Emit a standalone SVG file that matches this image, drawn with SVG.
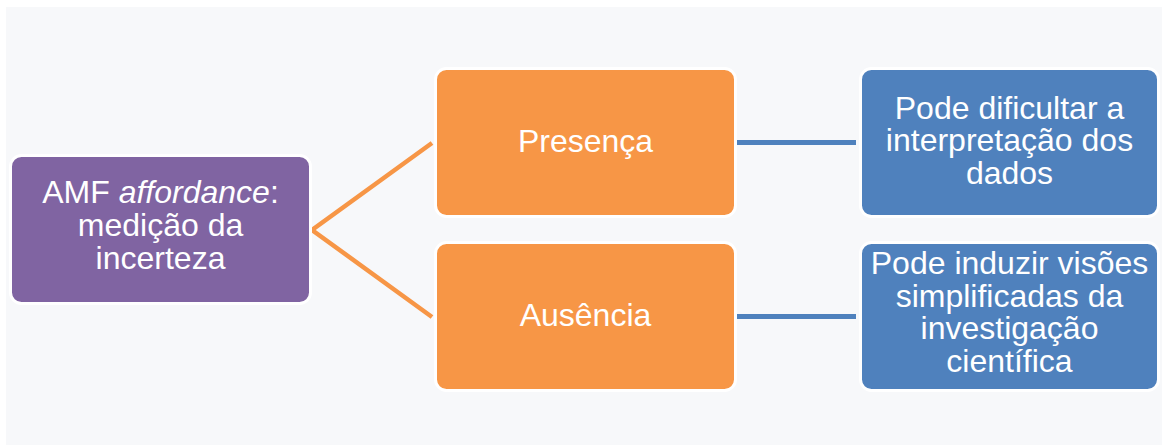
<svg xmlns="http://www.w3.org/2000/svg" width="1162" height="446" viewBox="0 0 1162 446">
  <style>
    .box { stroke: #ffffff; stroke-width: 3; }
    .purple { fill: #8064a2; }
    .orange { fill: #f79646; }
    .blue { fill: #4f81bd; }
    .lbl { font-family: "Liberation Sans", Arial, sans-serif; font-size: 32px; fill: #ffffff; text-anchor: middle; }
    .link-o { stroke: #f79646; stroke-width: 4.5; fill: none; }
    .link-b { stroke: #4f81bd; stroke-width: 5; fill: none; }
  </style>
  <rect x="0" y="0" width="1162" height="446" fill="#ffffff"/>
  <rect x="6" y="7" width="1156" height="438" fill="#f7f8fa"/>

  <g id="connectors">
    <polyline class="link-o" points="432,143 312,230 432,317"/>
    <line class="link-b" x1="736" y1="142.5" x2="856" y2="142.5"/>
    <line class="link-b" x1="736" y1="316.5" x2="856" y2="316.5"/>
  </g>

  <g id="node-amf">
    <rect class="box purple" x="10.5" y="155.5" width="300" height="148" rx="11"/>
    <text class="lbl" x="160.5" y="203">AMF <tspan font-style="italic">affordance</tspan>:</text>
    <text class="lbl" x="160.5" y="236">medição da</text>
    <text class="lbl" x="160.5" y="268.5">incerteza</text>
  </g>

  <g id="node-presenca">
    <rect class="box orange" x="435.5" y="68.5" width="300" height="148" rx="11"/>
    <text class="lbl" x="585.5" y="152">Presença</text>
  </g>

  <g id="node-ausencia">
    <rect class="box orange" x="435.5" y="242.5" width="300" height="148" rx="11"/>
    <text class="lbl" x="585.5" y="326">Ausência</text>
  </g>

  <g id="node-dificultar">
    <rect class="box blue" x="860.5" y="68.5" width="298" height="148" rx="11"/>
    <text class="lbl" x="1009.5" y="118.5">Pode dificultar a</text>
    <text class="lbl" x="1009.5" y="151">interpretação dos</text>
    <text class="lbl" x="1009.5" y="183.5">dados</text>
  </g>

  <g id="node-induzir">
    <rect class="box blue" x="860.5" y="242.5" width="298" height="148" rx="11"/>
    <text class="lbl" x="1009.5" y="274">Pode induzir visões</text>
    <text class="lbl" x="1009.5" y="306.5">simplificadas da</text>
    <text class="lbl" x="1009.5" y="339">investigação</text>
    <text class="lbl" x="1009.5" y="371.5">científica</text>
  </g>
</svg>
